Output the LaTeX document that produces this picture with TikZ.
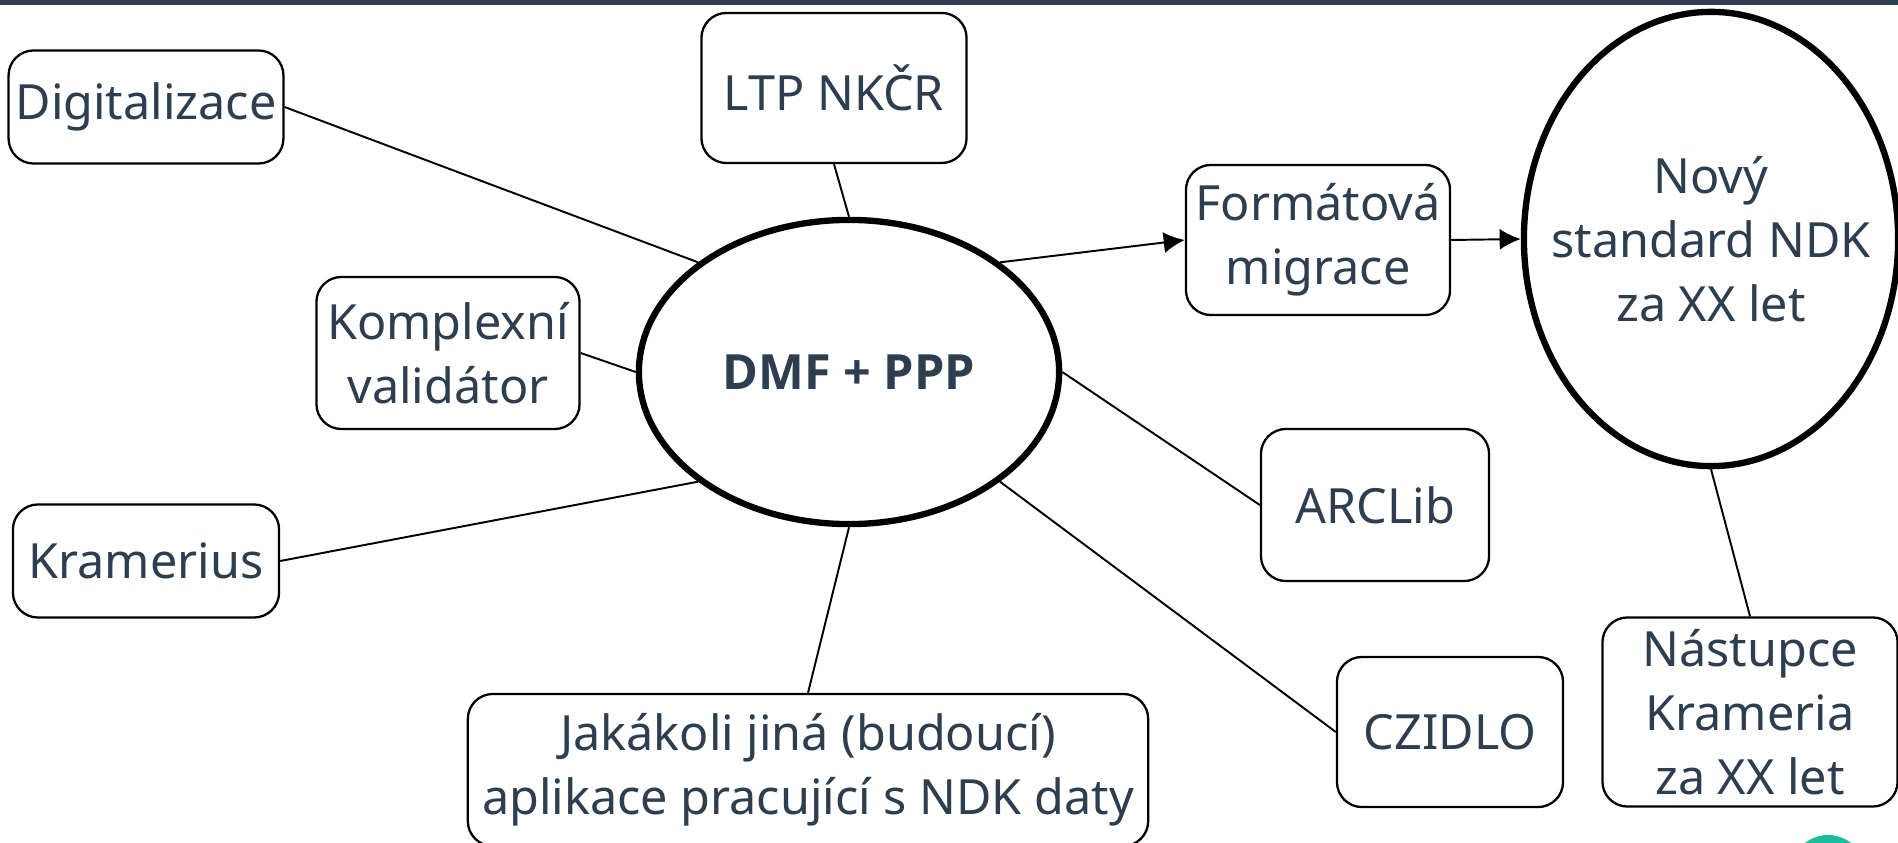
\documentclass[tikz,border=0pt]{standalone}
\usepackage{fontspec}
\setmainfont{Noto Sans}
\newfontfamily\hubfont{Open Sans}
\usepackage{xcolor}
\usetikzlibrary{shapes.geometric, arrows.meta}

\definecolor{slate}{HTML}{2C3E50}
\definecolor{bubble}{HTML}{1ABC9C}

\begin{document}
\begin{tikzpicture}[
    x=0.01cm, y=-0.01cm,
    itembox/.style={rectangle, rounded corners=0.25cm, draw=black, line width=0.65pt, fill=white, inner sep=2pt, align=center, text=slate, font=\fontsize{13.8}{18.2}\selectfont},
    hub/.style={ellipse, draw=black, line width=1.8pt, fill=white, inner sep=0pt, align=center, text=slate, font=\fontsize{13.8}{18.2}\selectfont},
    plain/.style={align=center, text=slate, font=\fontsize{13.8}{18.2}\selectfont},
    link/.style={draw=black, line width=0.55pt},
    arrow/.style={-{Latex[length=6pt,width=6pt]}, line width=0.55pt}
]
\useasboundingbox (0,0) rectangle (1898,843);
\clip (0,0) rectangle (1898,843);

% top bar
\fill[slate] (0,0) rectangle (1898,5);

% centre
\node[hub, minimum width=4.2cm, minimum height=3.04cm] (dmf) at (849,372) {\hubfont\bfseries DMF + PPP};

% outer items
\node[itembox, minimum width=2.64cm, minimum height=1.13cm] (digit) at (146,107) {Digitalizace};
\node[itembox, minimum width=2.65cm, minimum height=1.5cm] (ltp) at (834,88) {LTP NKČR};
\node[itembox, minimum width=2.63cm, minimum height=1.52cm] (komplex) at (448,353) {Komplexní\\validátor};
\node[itembox, minimum width=2.66cm, minimum height=1.13cm] (kramer) at (146,561) {Kramerius};
\node[itembox, minimum width=6.8cm, minimum height=1.52cm] (jaka) at (808,770) {Jakákoli jiná (budoucí)\\aplikace pracující s NDK daty};
\node[itembox, minimum width=2.28cm, minimum height=1.52cm] (arclib) at (1375,505) {ARCLib};
\node[itembox, minimum width=2.26cm, minimum height=1.5cm] (czidlo) at (1450,732) {CZIDLO};
\node[itembox, minimum width=2.64cm, minimum height=1.5cm] (formig) at (1318,240) {Formátová\\migrace};

% future
\node[hub, minimum width=3.74cm, minimum height=4.54cm] (novy) at (1711,239) {};
\node[plain] (novytext) at (novy) {Nový\\standard NDK\\za XX let};
\node[itembox, minimum width=2.95cm, minimum height=1.89cm] (nastup) at (1750,712) {Nástupce\\Krameria\\ za XX let};

% links
\draw[link] (digit.east) -- (dmf.144);
\draw[link] (ltp.south) -- (dmf.north);
\draw[link] (komplex.east) -- (dmf.west);
\draw[link] (kramer.east) -- (dmf.216);
\draw[link] (jaka.north) -- (dmf.south);
\draw[link] (arclib.west) -- (dmf.east);
\draw[link] (czidlo.west) -- (dmf.324);
\draw[link] (novy.south) -- (nastup.north);

\draw[arrow] (dmf.36) -- (formig.west);
\draw[arrow] (formig.east) -- (novy.west);

% corner bubble
\fill[bubble] (1828,872) circle (0.37cm);

\end{tikzpicture}
\end{document}
